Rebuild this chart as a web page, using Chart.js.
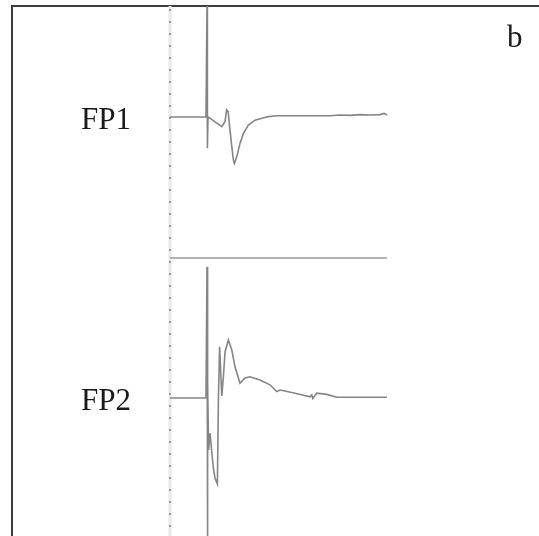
<!DOCTYPE html>
<html>
<head>
<meta charset="utf-8">
<script src="https://cdn.jsdelivr.net/npm/chart.js@4/dist/chart.umd.min.js"></script>
<style>
  html, body { margin: 0; padding: 0; background: #ffffff; }
  #wrap { width: 539px; height: 536px; }
</style>
</head>
<body>
<div id="wrap"><canvas id="fp" width="539" height="536"></canvas></div>
<script>
// Field potential recordings (time in ms from stimulus, amplitude in mV)
const fp1Time = [-1.85, -0.05, 0, 0.02, 0.05, 0.15, 0.4, 0.74, 0.9, 0.98, 1.06, 1.15, 1.24, 1.32, 1.37, 1.49, 1.65, 1.82, 2.07, 2.4, 2.74, 3.07, 3.5, 4.65, 6.15, 6.65, 7.15, 7.65, 8.15, 8.65, 8.85, 9.0];
const fp1Amp  = [0, 0, 2.8, -0.78, 0, -0.03, -0.12, -0.24, -0.12, 0.18, 0.13, -0.33, -0.74, -1.08, -1.16, -0.99, -0.66, -0.41, -0.2, -0.08, -0.03, 0.01, 0.03, 0.03, 0.03, 0.05, 0.04, 0.06, 0.05, 0.06, 0.09, 0.05];

const fp2Time = [-1.85, -0.05, 0, 0.02, 0.04, 0.08, 0.15, 0.24, 0.33, 0.4, 0.52, 0.57, 0.63, 0.74, 0.82, 0.9, 1.07, 1.24, 1.4, 1.65, 1.9, 2.15, 2.65, 3.15, 3.49, 3.65, 4.3, 5.15, 5.24, 5.29, 5.49, 5.99, 6.49, 9.0];
const fp2Amp  = [0, 0, 3.28, -3.6, 0.38, -1.3, -0.88, -1.35, -1.8, -2.0, -2.15, -0.05, 1.28, 0.05, 0.53, 1.15, 1.45, 1.2, 0.78, 0.37, 0.5, 0.53, 0.45, 0.33, 0.16, 0.2, 0.13, 0.03, 0.08, -0.01, 0.12, 0.09, 0.02, 0.02];

// Recording window marker and the divider between the two channels
const markerTime = [-1.85, -1.85];
const markerAmp = [3, -11];
const dividerTime = [-1.85, 9.0];
const dividerAmp = [-3.525, -3.525];

const traceLabels = ['FP1', 'FP2'];
const panelLetter = 'b';

const pts = (xs, ys) => xs.map((x, i) => ({ x: x, y: ys[i] }));

// Draws the channel names and the panel letter
const labelPlugin = {
  id: 'traceLabels',
  afterDatasetsDraw(chart) {
    const ctx = chart.ctx;
    const xs = chart.scales.x;
    const area = chart.chartArea;
    ctx.save();
    ctx.fillStyle = '#1a1a1a';
    ctx.font = '31px "Liberation Serif", "Times New Roman", serif';
    ctx.textBaseline = 'alphabetic';
    ctx.textAlign = 'right';
    const labelX = xs.getPixelForValue(-3.8);
    ctx.fillText(traceLabels[0], labelX, chart.scales.y1.getPixelForValue(0) + 12);
    ctx.fillText(traceLabels[1], labelX, chart.scales.y2.getPixelForValue(0) + 12);
    ctx.textAlign = 'left';
    ctx.fillText(panelLetter, area.right - 32, area.top + 41);
    ctx.restore();
  }
};

const lineStyle = { pointRadius: 0, tension: 0, fill: false };

// Lower "order" values are drawn on top
new Chart(document.getElementById('fp'), {
  type: 'line',
  data: {
    datasets: [
      { ...lineStyle, order: 5, data: pts(markerTime, markerAmp), yAxisID: 'y1', borderColor: '#e8e8e8', borderWidth: 3 },
      { ...lineStyle, order: 4, data: pts(markerTime, markerAmp), yAxisID: 'y1', borderColor: '#9a9a9a', borderWidth: 2, borderDash: [2, 10] },
      { ...lineStyle, order: 3, data: pts(dividerTime, dividerAmp), yAxisID: 'y1', borderColor: '#9a9a9a', borderWidth: 1.5 },
      { ...lineStyle, order: 2, label: 'FP1', data: pts(fp1Time, fp1Amp), yAxisID: 'y1', borderColor: '#858585', borderWidth: 1.6 },
      { ...lineStyle, order: 1, label: 'FP2', data: pts(fp2Time, fp2Amp), yAxisID: 'y2', borderColor: '#858585', borderWidth: 1.6 }
    ]
  },
  options: {
    responsive: false,
    devicePixelRatio: 1,
    animation: false,
    layout: { padding: { left: 12, top: 6, right: 0, bottom: 0 } },
    plugins: { legend: { display: false }, tooltip: { enabled: false } },
    scales: {
      x: {
        type: 'linear', position: 'top', min: -9.75, max: 16.6,
        grid: { display: false, drawTicks: false },
        ticks: { display: false },
        border: { display: true, color: '#3c3c3c', width: 2 }
      },
      y1: {
        type: 'linear', position: 'left', min: -10.475, max: 2.775,
        grid: { display: false, drawTicks: false },
        ticks: { display: false },
        border: { display: true, color: '#3c3c3c', width: 2 }
      },
      y2: {
        type: 'linear', position: 'right', min: -3.45, max: 9.8,
        display: false
      }
    }
  },
  plugins: [labelPlugin]
});
</script>
</body>
</html>
